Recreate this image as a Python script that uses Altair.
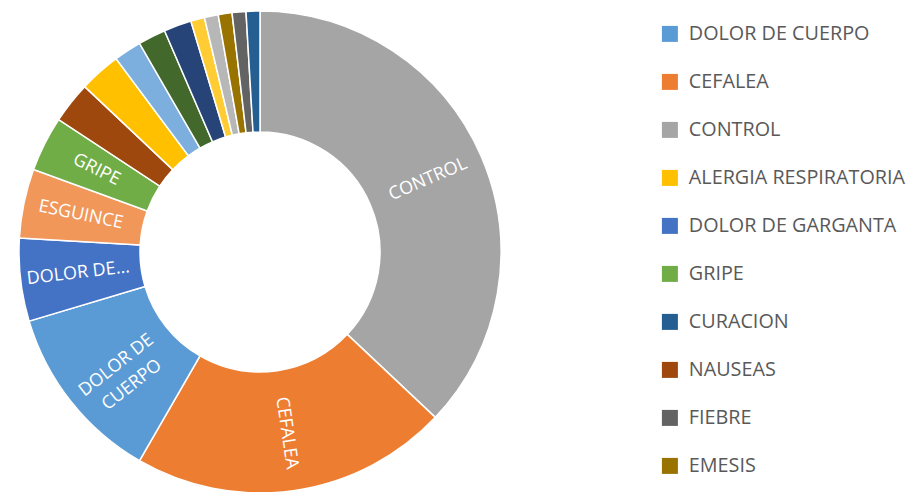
import altair as alt
import pandas as pd

# slices in clockwise order from 12 o'clock
names = ["CONTROL", "CEFALEA", "DOLOR DE CUERPO", "DOLOR DE GARGANTA", "ESGUINCE",
         "GRIPE", "NAUSEAS", "ALERGIA RESPIRATORIA", "DOLOR ABDOMINAL", "TOS",
         "DIARREA", "HERIDA", "MAREO", "EMESIS", "FIEBRE", "CURACION"]
values = [40, 23, 13, 6, 5, 4, 3, 3, 2, 2, 2, 1, 1, 1, 1, 1]
labels = ["CONTROL", "CEFALEA", "DOLOR DE\nCUERPO", "DOLOR DE…", "ESGUINCE",
          "GRIPE", "", "", "", "", "", "", "", "", "", ""]

# legend order (series order) and colours
legend_order = ["DOLOR DE CUERPO", "CEFALEA", "CONTROL", "ALERGIA RESPIRATORIA",
                "DOLOR DE GARGANTA", "GRIPE", "CURACION", "NAUSEAS", "FIEBRE", "EMESIS",
                "DIARREA", "TOS", "DOLOR ABDOMINAL", "ESGUINCE", "MAREO", "HERIDA"]
legend_colors = ["#5B9BD5", "#ED7D31", "#A5A5A5", "#FFC000", "#4472C4", "#70AD47",
                 "#255E91", "#9E480E", "#636363", "#997300", "#264478", "#43682B",
                 "#7CAFDD", "#F1975A", "#B7B7B7", "#FFCD33"]
legend_visible = legend_order[:10]

df = pd.DataFrame({"name": names, "v": values, "label": labels, "idx": list(range(len(names)))})

CX, CY = 252, 244

base = alt.Chart(df).transform_joinaggregate(
    total="sum(v)"
).transform_window(
    cum="sum(v)", sort=[alt.SortField("idx")], frame=[None, 0]
).transform_calculate(
    start="(datum.cum - datum.v) / datum.total * 2 * PI",
    end="datum.cum / datum.total * 2 * PI",
    middeg="(datum.cum - datum.v / 2) / datum.total * 360",
).transform_calculate(
    ang="datum.middeg < 180 ? (datum.middeg + 270) % 360 : (datum.middeg + 90) % 360",
    midrad="datum.middeg * PI / 180",
)

arcs = base.mark_arc(innerRadius=120, outerRadius=241, stroke="white", strokeWidth=1.5).encode(
    x=alt.value(CX),
    y=alt.value(CY),
    theta=alt.Theta("start:Q", scale=None),
    theta2="end:Q",
    color=alt.Color(
        "name:N",
        scale=alt.Scale(domain=legend_order, range=legend_colors),
        legend=alt.Legend(
            title=None,
            values=legend_visible,
            orient="none",
            legendX=652,
            legendY=16,
            symbolType="square",
            symbolSize=256,
            symbolStrokeWidth=0,
            labelFont="Open Sans",
            labelFontSize=19.8,
            labelColor="#595959",
            labelOffset=9,
            labelLimit=400,
            rowPadding=27,
        ),
    ),
)

texts = base.mark_text(
    font="Open Sans", fontSize=18, color="white", align="center", baseline="middle",
    lineBreak="\n", lineHeight=25,
).encode(
    x=alt.value(CX),
    y=alt.value(CY),
    theta=alt.Theta("midrad:Q", scale=None),
    radius=alt.value(183),
    angle=alt.Angle("ang:Q", scale=None),
    text="label:N",
)

chart = alt.layer(arcs, texts).properties(
    width=902, height=484, padding=0, autosize=alt.AutoSizeParams(type="none")
).configure_view(stroke=None)

chart.save("out.html", embed_options={"renderer": "svg", "actions": False})
